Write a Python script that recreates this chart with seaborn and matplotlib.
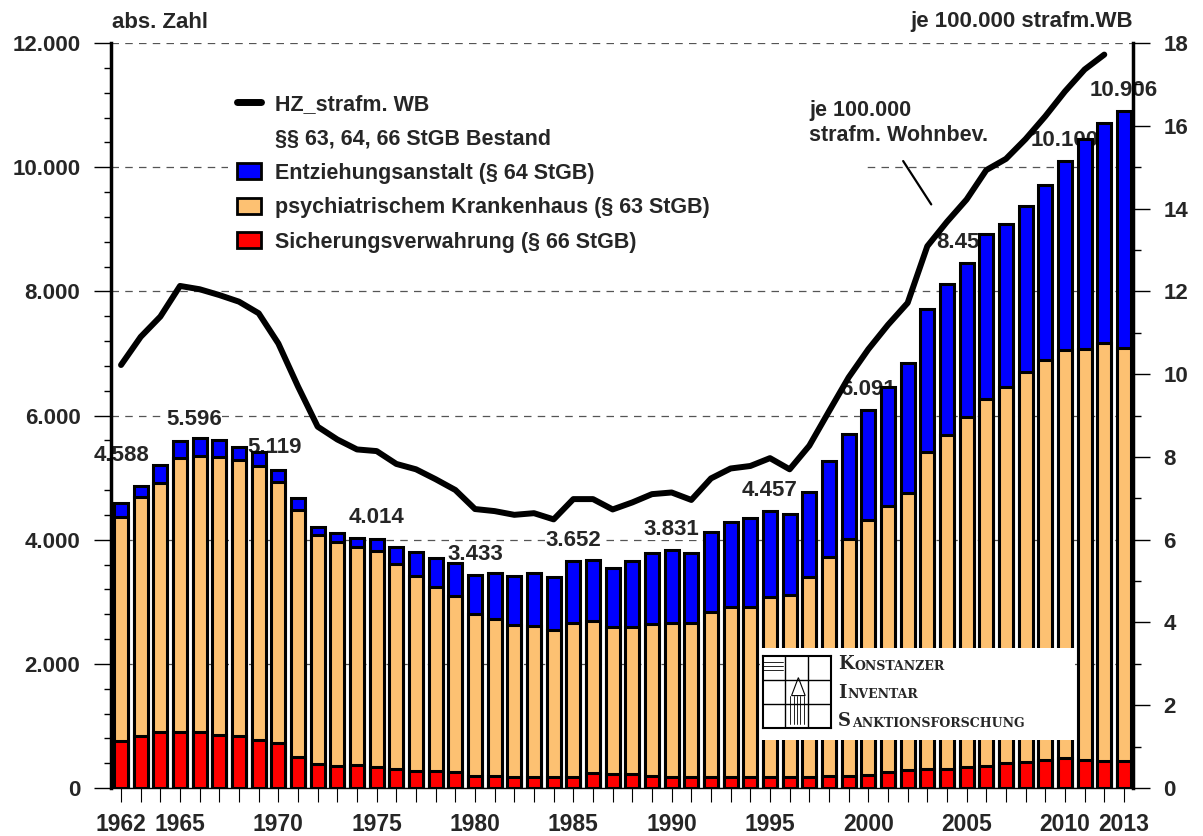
import matplotlib
matplotlib.use("Agg")
import matplotlib.pyplot as plt
import numpy as np
import pandas as pd
import seaborn as sns
from matplotlib import font_manager as fm
from matplotlib.patches import Patch, Rectangle
from matplotlib.lines import Line2D
from matplotlib.ticker import FuncFormatter, MultipleLocator

# ---------------- data ----------------
years = list(range(1962, 2014))
sv = [760, 840, 900, 900, 900, 860, 830, 775, 720, 505,
      380, 355, 370, 335, 300, 280, 280, 250, 200, 200,
      185, 185, 185, 185, 235, 220, 220, 200, 185, 185,
      185, 185, 185, 180, 175, 175, 190, 200, 215, 255,
      295, 300, 300, 335, 350, 400, 415, 445, 490, 455,
      430, 430]
psych = [3610, 3853, 4018, 4410, 4448, 4467, 4454, 4417, 4214, 3973,
         3695, 3602, 3507, 3488, 3303, 3135, 2963, 2843, 2598, 2517,
         2441, 2425, 2360, 2468, 2460, 2368, 2368, 2442, 2468, 2468,
         2655, 2725, 2725, 2902, 2930, 3231, 3533, 3816, 4094, 4292,
         4458, 5118, 5379, 5637, 5923, 6056, 6278, 6446, 6560, 6610,
         6731, 6651]
entz = [218, 172, 285, 286, 285, 273, 214, 226, 185, 188,
        134, 156, 156, 191, 274, 387, 468, 527, 635, 741,
        789, 859, 859, 999, 978, 961, 1069, 1138, 1178, 1138,
        1289, 1380, 1434, 1375, 1315, 1362, 1545, 1679, 1782, 1909,
        2099, 2297, 2432, 2485, 2654, 2629, 2685, 2828, 3050, 3391,
        3548, 3825]
hz_years = list(range(1962, 2013))
hz = [10.22, 10.90, 11.39, 12.13, 12.05, 11.91, 11.75, 11.47, 10.74, 9.70,
      8.73, 8.42, 8.18, 8.14, 7.83, 7.70, 7.46, 7.20, 6.74, 6.69,
      6.60, 6.64, 6.49, 6.98, 6.98, 6.73, 6.90, 7.10, 7.14, 6.96,
      7.48, 7.72, 7.78, 7.97, 7.70, 8.27, 9.10, 9.92, 10.60, 11.19,
      11.72, 13.09, 13.68, 14.22, 14.93, 15.20, 15.68, 16.23, 16.83, 17.36,
      17.72]
label_years = [1962, 1965, 1970, 1975, 1980, 1985, 1990, 1995, 2000, 2005, 2010, 2013]
label_texts = ["4.588", "5.596", "5.119", "4.014", "3.433", "3.652",
               "3.831", "4.457", "6.091", "8.457", "10.100", "10.906"]
xtick_label_years = [1962, 1965, 1970, 1975, 1980, 1985, 1990, 1995, 2000, 2005, 2010, 2013]

legend_labels = ["HZ_strafm. WB", "§§ 63, 64, 66 StGB Bestand",
                 "Entziehungsanstalt (§ 64 StGB)",
                 "psychiatrischem Krankenhaus (§ 63 StGB)",
                 "Sicherungsverwahrung (§ 66 StGB)"]

# ---------------- style ----------------
sns.set_theme(style="white")
names = {f.name for f in fm.fontManager.ttflist}
base = "Liberation Sans" if "Liberation Sans" in names else "DejaVu Sans"
plt.rcParams["font.family"] = [base, "DejaVu Sans"]
plt.rcParams["font.weight"] = "bold"

BLUE = "#0000FF"
ORANGE = "#FDC172"
RED = "#FF0000"

W, H = 1203, 836
fig = plt.figure(figsize=(W / 100, H / 100), dpi=100)
fig.patch.set_facecolor("white")
ax = fig.add_axes([111 / W, 48 / H, 1022 / W, 745 / H])

df = pd.DataFrame({"year": years, "sv": sv, "psych": psych, "entz": entz})
df["sv_psych"] = df["sv"] + df["psych"]
df["total"] = df["sv_psych"] + df["entz"]

for col, color in [("total", BLUE), ("sv_psych", ORANGE), ("sv", RED)]:
    sns.barplot(data=df, x="year", y=col, native_scale=True, color=color,
                saturation=1, width=0.71, edgecolor="black", linewidth=2.2,
                errorbar=None, ax=ax, zorder=2)

ax.set_xlim(1961.49, 2013.46)
ax.set_ylim(0, 12000)
ax.set_xlabel("")
ax.set_ylabel("")
ax.set_axisbelow(True)
ax.yaxis.grid(True, which="major", linestyle=(0, (6, 5)), color="#555555", lw=0.9)
ax.xaxis.grid(False)

ax.set_xticks(years)
ax.set_xticklabels([str(y) if y in xtick_label_years else "" for y in years])
ax.tick_params(axis="x", direction="out", length=10, width=0.8, color="black",
               labelsize=16.5, pad=8, bottom=True)
ax.yaxis.set_major_locator(MultipleLocator(2000))
ax.yaxis.set_minor_locator(MultipleLocator(400))
ax.yaxis.set_major_formatter(FuncFormatter(lambda v, p: f"{int(v):,}".replace(",", ".")))
ax.tick_params(axis="y", which="major", direction="out", length=12, width=1,
               color="black", labelsize=16, pad=10, left=True)
ax.tick_params(axis="y", which="minor", direction="out", length=5, width=1,
               color="black", left=True)
for s in ["top", "right"]:
    ax.spines[s].set_visible(False)
ax.spines["left"].set_linewidth(2.5)
ax.spines["left"].set_color("black")
ax.spines["bottom"].set_linewidth(1.0)
ax.spines["bottom"].set_color("black")

# value labels (drawn beneath bars, with white background)
totals = dict(zip(df["year"], df["total"]))
label_offsets = {1962: (0, 34), 1965: (10, 15), 1970: (-3, 16), 2005: (-2, 15)}
for yr, txt in zip(label_years, label_texts):
    dx, dy = label_offsets.get(yr, (0, 15))
    ax.annotate(txt, (yr, totals[yr]), xytext=(dx, dy), textcoords="offset points",
                ha="center", va="center", fontsize=16, fontweight="bold",
                zorder=1.5, bbox=dict(facecolor="white", edgecolor="none", pad=0.5))

# secondary axis with line
ax2 = ax.twinx()
sns.lineplot(x=hz_years, y=hz, ax=ax2, color="black", lw=4.3, zorder=4)
ax2.lines[-1].set_solid_capstyle("round")
ax2.set_ylim(0, 18)
ax2.set_xlim(1961.49, 2013.46)
ax2.set_ylabel("")
ax2.yaxis.set_major_locator(MultipleLocator(2))
ax2.yaxis.set_minor_locator(MultipleLocator(1))
ax2.tick_params(axis="y", which="major", direction="out", length=12, width=1,
                color="black", labelsize=16, pad=10, right=True)
ax2.tick_params(axis="y", which="minor", direction="out", length=6, width=1,
                color="black", right=True)
for s in ["top", "left", "bottom"]:
    ax2.spines[s].set_visible(False)
ax2.spines["right"].set_linewidth(2.5)
ax2.spines["right"].set_color("black")

# legend
handles = [Line2D([], [], color="black", lw=5, solid_capstyle="round"),
           Patch(facecolor="none", edgecolor="none"),
           Patch(facecolor=BLUE, edgecolor="black", linewidth=2),
           Patch(facecolor=ORANGE, edgecolor="black", linewidth=2),
           Patch(facecolor=RED, edgecolor="black", linewidth=2)]
leg = ax2.legend(handles, legend_labels, loc="upper left",
                 bbox_to_anchor=(0.1145, 0.9436, 0.62, 0.0), mode="expand",
                 frameon=True, facecolor="white", edgecolor="none", framealpha=1,
                 prop={"weight": "bold", "size": 15.5}, handlelength=1.15,
                 handleheight=0.75, handletextpad=0.65, labelspacing=0.63,
                 borderpad=0.4, borderaxespad=0)
leg.set_zorder(10)

# annotation
ax2.annotate("je 100.000\nstrafm. Wohnbev.", xy=(2003.2, 14.1), xytext=(1997.0, 16.62),
             textcoords="data", ha="left", va="top", fontsize=15.5, fontweight="bold",
             linespacing=1.25, zorder=12,
             arrowprops=dict(arrowstyle="-", lw=1.6, color="black",
                             relpos=(0.47, 0.0), shrinkA=10, shrinkB=0))

# top axis titles
fig.text(112 / W, 1 - 22 / H, "abs. Zahl", ha="left", va="center", fontsize=16,
         fontweight="bold")
fig.text(1133 / W, 1 - 22 / H, "je 100.000 strafm.WB", ha="right", va="center",
         fontsize=16, fontweight="bold")

# logo box
x0, x1 = (760 - 111) / 1022, (1075 - 111) / 1022
y0, y1 = (788 - 740) / 745, (788 - 648) / 745
ax2.add_patch(Rectangle((x0, y0), x1 - x0, y1 - y0, transform=ax2.transAxes,
                        facecolor="white", edgecolor="none", zorder=8))
serif = ["DejaVu Serif"]
for row, (big, rest) in enumerate([("K", "ONSTANZER"), ("I", "NVENTAR"),
                                   ("S", "ANKTIONSFORSCHUNG")]):
    yy = (788 - (669 + row * 28.5)) / 745
    t1 = ax2.text((838 - 111) / 1022, yy, big, transform=ax2.transAxes,
                  fontsize=13, family=serif, fontweight="bold", ha="left",
                  va="baseline", zorder=9)
    ax2.annotate(rest, xy=(1.0, 0.0), xycoords=t1, xytext=(0.5, 0),
                 textcoords="offset points", fontsize=9, family=serif,
                 fontweight="bold", ha="left", va="bottom", zorder=9)

# small emblem
lg = fig.add_axes([763 / W, 1 - 728 / H, 68 / W, 72 / H])
lg.set_xlim(0, 1)
lg.set_ylim(0, 1)
lg.set_xticks([])
lg.set_yticks([])
for s in lg.spines.values():
    s.set_linewidth(1.5)
    s.set_color("black")
for v in [0.33, 0.66]:
    lg.axvline(v, color="black", lw=1)
for h in [0.33, 0.66]:
    lg.axhline(h, color="black", lw=1)
for h in [0.8, 0.86, 0.92]:
    lg.axhline(h, xmin=0.0, xmax=0.3, color="black", lw=0.6)
for v in np.arange(0.40, 0.64, 0.05):
    lg.axvline(v, ymin=0.05, ymax=0.45, color="black", lw=0.6)
lg.fill([0.42, 0.52, 0.62], [0.45, 0.7, 0.45], facecolor="none", edgecolor="black", lw=0.8)

fig.savefig("out.png", dpi=100, facecolor="white")
